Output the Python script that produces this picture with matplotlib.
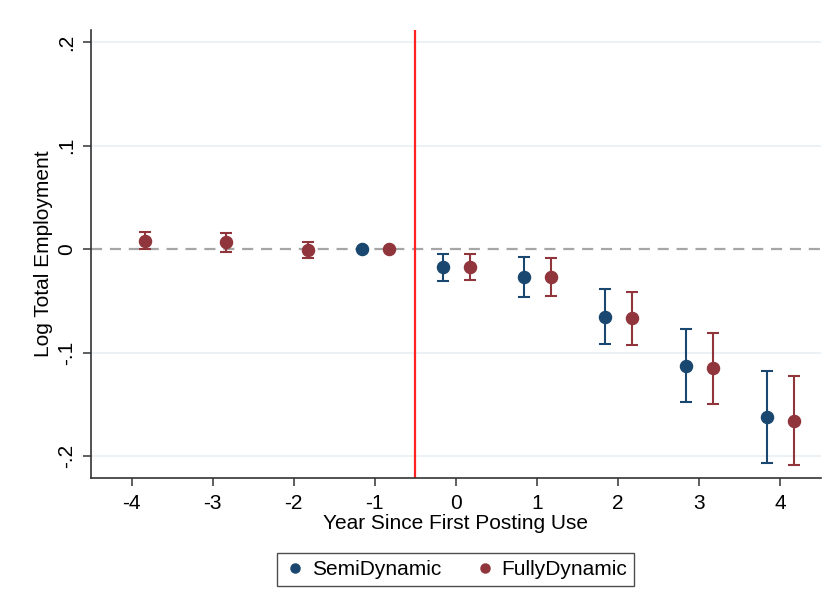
import matplotlib.pyplot as plt

plt.rcParams['font.family'] = ['Liberation Sans', 'DejaVu Sans']
plt.rcParams['axes.unicode_minus'] = False

# event-time estimates
semi_x = [-1.16, -0.16, 0.84, 1.84, 2.84, 3.84]
semi_b = [0.0, -0.0174, -0.0265, -0.0651, -0.1124, -0.1623]
semi_lo = [0.0, -0.0306, -0.0458, -0.0918, -0.1475, -0.2068]
semi_hi = [0.0, -0.0045, -0.0071, -0.0386, -0.0773, -0.1173]

full_x = [-3.83, -2.83, -1.83, -0.83, 0.17, 1.17, 2.17, 3.17, 4.17]
full_b = [0.0083, 0.0068, -0.0007, 0.0, -0.0168, -0.0270, -0.0667, -0.1150, -0.1656]
full_lo = [0.0, -0.0023, -0.0084, 0.0, -0.0297, -0.0451, -0.0925, -0.1492, -0.2084]
full_hi = [0.0167, 0.0157, 0.0070, 0.0, -0.0048, -0.0084, -0.0415, -0.0809, -0.1224]

xticks = [-4, -3, -2, -1, 0, 1, 2, 3, 4]
yticks = [0.2, 0.1, 0, -0.1, -0.2]
ylabels = [".2", ".1", "0", "-.1", "-.2"]

navy = "#1a476f"
maroon = "#90353b"

fig = plt.figure(figsize=(8.35, 6.12), dpi=100)
ax = fig.add_axes([0.109, 0.2185, 0.874, 0.7325])

# grid
for y in [0.2, 0.1, -0.1, -0.2]:
    ax.axhline(y, color="#e9f0f4", lw=1.3, zorder=0)
ax.axhline(0, color="#a6a6a6", lw=1.6, ls=(0, (5, 3.5)), zorder=1)
ax.axvline(-0.5, color="#ff2222", lw=1.6, zorder=1)


def draw(xs, b, lo, hi, color, label):
    xe, be, le, he = [], [], [], []
    for x, m, l, h in zip(xs, b, lo, hi):
        if h - l > 0:
            xe.append(x)
            be.append(m)
            le.append(m - l)
            he.append(h - m)
    ax.errorbar(xe, be, yerr=[le, he], fmt="none", ecolor=color, elinewidth=1.5,
                capsize=4.6, capthick=1.5, zorder=2)
    ax.plot(xs, b, "o", color=color, ms=8.7, mec=color, zorder=3, label=label)


draw(semi_x, semi_b, semi_lo, semi_hi, navy, "SemiDynamic")
draw(full_x, full_b, full_lo, full_hi, maroon, "FullyDynamic")

ax.set_xlim(-4.5, 4.5)
ax.set_ylim(-0.2213, 0.2119)
ax.set_xticks(xticks)
ax.set_yticks(yticks)
ax.set_yticklabels(ylabels, rotation=90, va="center")
ax.tick_params(axis="both", length=6, width=1.1, color="#333333", labelsize=15, pad=5)

for s in ["top", "right"]:
    ax.spines[s].set_visible(False)
for s in ["left", "bottom"]:
    ax.spines[s].set_color("#333333")
    ax.spines[s].set_linewidth(1.2)

ax.set_xlabel("Year Since First Posting Use", fontsize=15, labelpad=1)
ax.set_ylabel("Log Total Employment", fontsize=15, labelpad=3)

leg = fig.legend(loc="center", bbox_to_anchor=(0.546, 0.0695), ncol=2, fontsize=15,
                 frameon=True, fancybox=False, edgecolor="#222222", handletextpad=0.3,
                 columnspacing=1.6, markerscale=0.75, borderpad=0.35, handlelength=1.0)
leg.get_frame().set_linewidth(1.0)

fig.savefig("out.png", dpi=100)
